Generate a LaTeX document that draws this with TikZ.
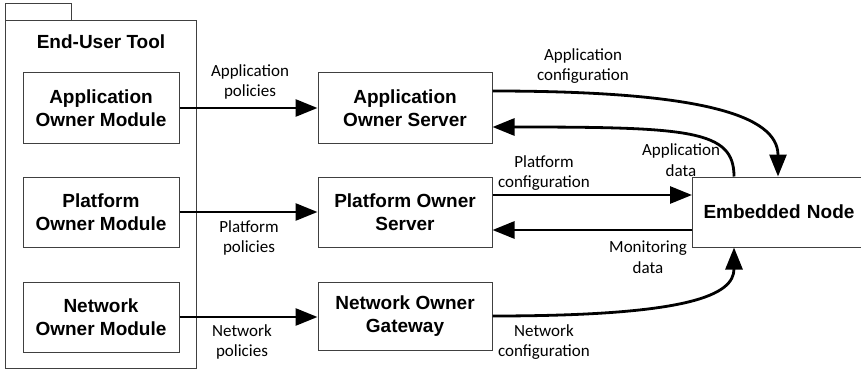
\documentclass[tikz,border=0pt]{standalone}
\usepackage{fontspec}
\setmainfont{Carlito}
\newfontfamily\boxfont{Liberation Sans}
\usetikzlibrary{arrows.meta,calc}

\begin{document}
\begin{tikzpicture}[x=0.5pt,y=-0.5pt,
  frame/.style={draw=black!75,line width=0.5pt},
  box/.style={frame,align=center,inner sep=0pt,
    font=\boxfont\bfseries\fontsize{9.5}{11.5}\selectfont},
  modbox/.style={box,minimum width=78pt,minimum height=35pt},
  srvbox/.style={box,minimum width=87pt,minimum height=35pt},
  lbl/.style={align=center,inner sep=0pt,font=\fontsize{8.5}{10.3}\selectfont},
  flow/.style={-{Triangle[length=11pt,width=8.5pt]},line width=1.4pt}]
\useasboundingbox (0,0) rectangle (861,369);
% end-user tool package
\draw[frame] (5,4) rectangle (71,21);
\draw[frame] (5,21) rectangle (196,368);
\node[box,draw=none] (tool) at (101,42) {End-User Tool};
\node[modbox] (appmod) at (101,108) {Application\\Owner Module};
\node[modbox] (platmod) at (101,212) {Platform\\Owner Module};
\node[modbox] (netmod) at (101,317) {Network\\Owner Module};
\node[srvbox] (appsrv) at (405,108) {Application\\Owner Server};
\node[srvbox] (platsrv) at (405,212) {Platform Owner\\Server};
\node[srvbox,minimum height=34pt] (netgw) at (405,316) {Network Owner\\Gateway};
\node[box,anchor=west,align=left,inner xsep=5.5pt,text width=85pt,minimum height=35pt] (emb) at (692,212) {Embedded Node};
% policies
\draw[flow] (appmod.east) -- (appsrv.west);
\draw[flow] (platmod.east) -- (platsrv.west);
\draw[flow] (netmod.east) -- (netgw.west |- netmod.east);
\node[lbl] (apppol) at (250,82) {Application\\policies};
\node[lbl] (platpol) at (249,238) {Platform\\policies};
\node[lbl] (netpol) at (242,342) {Network\\policies};
% configuration and data
\draw[flow] ($(appsrv.east)+(0,-17)$) .. controls (700,91) and (778,115) .. ($(emb.north west)+(86,0)$);
\draw[flow] ($(emb.north west)+(42,0)$) .. controls (734,130) and (690,127) .. ($(appsrv.east)+(0,19)$);
\draw[flow] ($(platsrv.east)+(0,-17)$) -- ($(emb.west)+(0,-17)$);
\draw[flow] ($(emb.west)+(0,18)$) -- ($(platsrv.east)+(0,18)$);
\draw[flow] (netgw.east) .. controls (690,316) and (734,295) .. ($(emb.south west)+(42,0)$);
\node[lbl] (appconf) at (583,66) {Application\\configuration};
\node[lbl] (appdata) at (681,160) {Application\\data};
\node[lbl] (platconf) at (544,173) {Platform\\configuration};
\node[lbl] (mondata) at (648,257) {Monitoring\\data};
\node[lbl] (netconf) at (544,342) {Network\\configuration};
\end{tikzpicture}
\end{document}
